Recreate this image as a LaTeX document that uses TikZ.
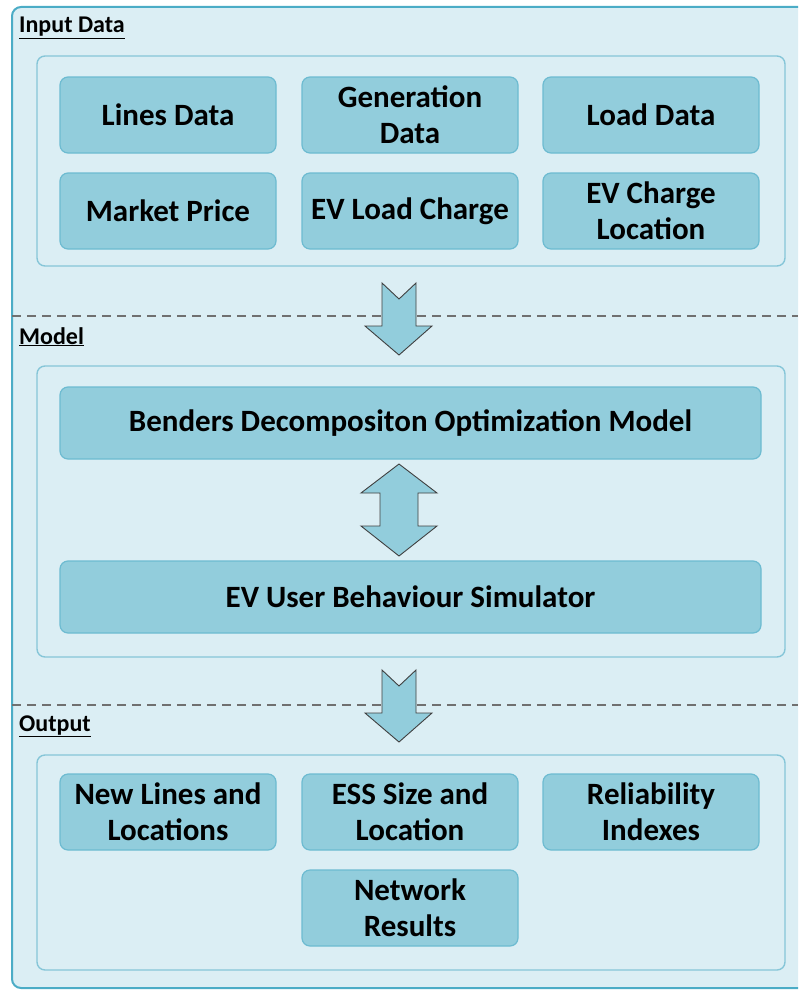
\documentclass[tikz,border=0pt]{standalone}
\usepackage{fontspec}
\setmainfont{Carlito}
\definecolor{bgfill}{HTML}{DBEEF4}
\definecolor{frameline}{HTML}{4BACC6}
\definecolor{panelline}{HTML}{86C6D8}
\definecolor{boxfill}{HTML}{92CDDC}
\definecolor{boxline}{HTML}{6DBBD1}
\definecolor{dashgray}{HTML}{707070}
\definecolor{arrowline}{HTML}{404040}
\begin{document}
\begin{tikzpicture}[x=1pt,y=-1pt,
  panel/.style={draw=panelline, line width=1.4pt, fill=bgfill, rounded corners=8pt,
    minimum width=748pt, inner sep=0pt},
  databox/.style={draw=boxline, line width=1.2pt, fill=boxfill, rounded corners=8pt,
    minimum width=216pt, minimum height=76pt, inner sep=0pt, align=center,
    font=\fontsize{31}{36}\selectfont\bfseries},
  widebox/.style={databox, minimum width=701pt, minimum height=72pt},
  section/.style={anchor=base west, inner sep=0pt, font=\fontsize{24}{28}\selectfont\bfseries},
  sepline/.style={draw=dashgray, line width=1.8pt, dash pattern=on 9pt off 6pt},
  bigarrow/.style={draw=arrowline, line width=0.9pt, fill=boxfill, line join=miter}]
\useasboundingbox (0,0) rectangle (798,990);
\clip (0,0) rectangle (798,990);

% outer frame, open to the right
\draw[draw=frameline, line width=2pt, fill=bgfill, rounded corners=9pt]
  (12,7) rectangle (830,988);

% section separators
\coordinate (sepA0) at (12,316);  \coordinate (sepA1) at (798,316);
\coordinate (sepB0) at (12,705);  \coordinate (sepB1) at (798,705);
\draw[sepline] (sepA0) -- (sepA1);
\draw[sepline] (sepB0) -- (sepB1);

% section titles
\node[section] (tIn)  at (19,33)  {\underline{Input Data}};
\node[section] (tMod) at (19,344) {\underline{Model}};
\node[section] (tOut) at (19,731) {\underline{Output}};

% panels
\node[panel, minimum height=210pt] (pIn)  at (411,161)   {};
\node[panel, minimum height=291pt] (pMod) at (411,511.5) {};
\node[panel, minimum height=215pt] (pOut) at (411,862.5) {};

% input data boxes
\node[databox] (lines) at (168,115) {Lines Data};
\node[databox] (gen)   at (410,115) {Generation\\Data};
\node[databox] (load)  at (651,115) {Load Data};
\node[databox] (price) at (168,211) {Market Price};
\node[databox] (evl)   at (410,211) {EV Load Charge};
\node[databox] (evc)   at (651,211) {EV Charge\\Location};

% model boxes
\node[widebox] (bend) at (410.5,423) {Benders Decompositon Optimization Model};
\node[widebox] (sim)  at (410.5,597) {EV User Behaviour Simulator};

% output boxes
\node[databox] (newl) at (168,812) {New Lines and\\Locations};
\node[databox] (ess)  at (410,812) {ESS Size and\\Location};
\node[databox] (rel)  at (651,812) {Reliability\\Indexes};
\node[databox] (net)  at (410,908) {Network\\Results};

% notched block arrows between the sections
\foreach \ty in {283,670}{
  \draw[bigarrow, shift={(399,\ty)}]
    (-17,0) -- (0,16) -- (17,0) -- (17,43) -- (33,43) -- (0,72)
    -- (-34,43) -- (-17,43) -- cycle;
}

% two-way block arrow between optimisation model and simulator
\draw[bigarrow]
  (399,464) -- (437,493) -- (418,493) -- (418,526) -- (437,526) -- (399,556)
  -- (361,526) -- (380,526) -- (380,493) -- (361,493) -- cycle;
\end{tikzpicture}
\end{document}
